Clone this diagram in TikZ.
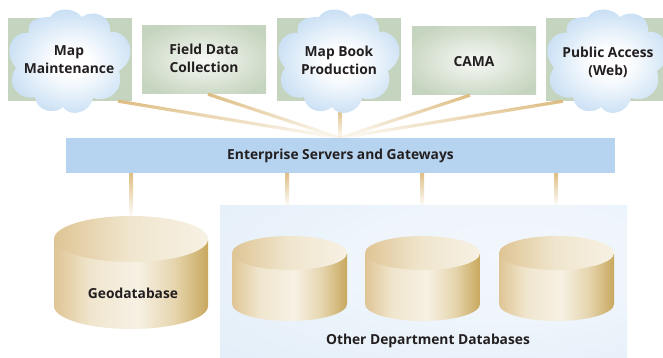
\documentclass[tikz,border=0pt]{standalone}
\usepackage{fontspec}
\setmainfont{Open Sans}
\usetikzlibrary{positioning,fadings}
\definecolor{linktan}{HTML}{DDBB7E}
\definecolor{boxgreen}{HTML}{C5D4BE}
\definecolor{barblue}{HTML}{B6D4EF}
\definecolor{cloudblue}{HTML}{B4D3F0}
\definecolor{panelblue}{HTML}{E1EDF8}
\definecolor{labelgray}{HTML}{231F20}
\definecolor{cana}{HTML}{DFC595}
\definecolor{canb}{HTML}{F7F1E4}
\definecolor{canc}{HTML}{C8A85E}
\definecolor{cand}{HTML}{F0E6CE}
\definecolor{cane}{HTML}{E6D5AE}
\pgfdeclarehorizontalshading{canside}{100bp}{color(0bp)=(cana);color(25bp)=(cana);
    color(37bp)=(cand);color(52bp)=(canb);color(64bp)=(cane);color(75bp)=(canc);color(100bp)=(canc)}
\pgfdeclarehorizontalshading{cantop}{100bp}{color(0bp)=(cana);color(25bp)=(cana);
    color(50bp)=(cand);color(75bp)=(canb);color(100bp)=(canb)}
\pgfdeclareradialshading{boxglow}{\pgfpoint{0bp}{0bp}}{color(0bp)=(white!85!boxgreen);
    color(30bp)=(boxgreen);color(100bp)=(boxgreen)}
\pgfdeclareradialshading{cloudglow}{\pgfpoint{0bp}{0bp}}{color(0bp)=(white);
    color(6bp)=(white);color(31bp)=(cloudblue);color(100bp)=(cloudblue)}
\pgfdeclareradialshading{panelglow}{\pgfpoint{12bp}{8bp}}{color(0bp)=(white!55!panelblue);
    color(18bp)=(white!45!panelblue);color(50bp)=(panelblue);color(100bp)=(panelblue)}
\tikzset{
    label text/.style={font=\fontsize{13.8}{18}\selectfont\bfseries, text=labelgray, align=center},
    flat box/.style={rectangle, fill=boxgreen, minimum width=124pt, inner sep=0pt},
    glow box/.style={flat box, shading=boxglow, minimum height=68pt, label text},
    link/.style={line width=3.2pt, color=linktan, path fading=south},
    drop/.style={link, line width=4pt},
}
% one cloud, centred on #1
\newcommand{\cloudblob}[1]{
    \shade[shift={#1}, shading=cloudglow]
        (-20,-44) .. controls (-14,-54) and (4,-54) .. (12,-44)
        .. controls (22,-52) and (42,-46) .. (40,-29)
        .. controls (56,-32) and (72,-6) .. (49,10)
        .. controls (55,30) and (38,42) .. (23,37)
        .. controls (20,52) and (0,57) .. (-7,46)
        .. controls (-14,53) and (-33,52) .. (-35,36)
        .. controls (-50,40) and (-66,24) .. (-54,7)
        .. controls (-68,-10) and (-58,-30) .. (-41,-28)
        .. controls (-44,-42) and (-30,-44) .. (-20,-44) -- cycle;
}
% one can: centre of the top, x radius, y radius, height
\newcommand{\dbcan}[5]{
    \shade[shading=canside] (#1-#3,#2) -- (#1-#3,#2+#5)
        arc[start angle=180, end angle=0, x radius=#3, y radius=#4] -- (#1+#3,#2) -- cycle;
    \shade[shading=cantop] (#1,#2) ellipse[x radius=#3, y radius=#4];
}
\begin{document}
\begin{tikzpicture}[x=1pt, y=-1pt]
    % the frame
    \useasboundingbox (0,0) rectangle (663,358);
    \clip (0,0) rectangle (663,358);

    % the top row
    \node[flat box, minimum height=83pt] (maintbox) at (70,59.5) {};
    \node[glow box] (field) at (204,60) {\raisebox{1pt}{\begin{tabular}{@{}c@{}}Field Data\\Collection\end{tabular}}};
    \node[flat box, minimum height=83pt] (bookbox) at (339,59.5) {};
    \node[glow box] (cama) at (474,61) {\raisebox{-6pt}[0pt][0pt]{CAMA}};
    \node[flat box, minimum height=83pt] (publicbox) at (608,59.5) {};

    % the bar and the panel
    \node[rectangle, fill=barblue, minimum width=549pt, minimum height=35pt, inner sep=0pt, label text]
        (bar) at (340.5,155.5) {\raisebox{-4.5pt}[0pt][0pt]{Enterprise Servers and Gateways}};
    \node[rectangle, minimum width=407pt, minimum height=153pt, inner sep=0pt, shading=panelglow]
        (panel) at (423.5,281.5) {};
    \coordinate (hub) at (340,138);
    \coordinate (geotop) at (131,216);
    \coordinate (dbone) at (287,236);
    \coordinate (dbtwo) at (422,236);
    \coordinate (dbthree) at (556,236);

    % the links
    \draw[link] ([xshift=-14pt]maintbox.south east) -- (hub);
    \draw[link] ([xshift=4pt]field.south) -- (hub);
    \draw[drop] ([xshift=1.1pt, yshift=-8pt]bookbox.south) -- (hub);
    \draw[link] ([xshift=-4pt]cama.south) -- (hub);
    \draw[link] ([xshift=-45pt]publicbox.south) -- (hub);
    \draw[drop] (bar.south -| geotop) -- ([xshift=.1pt]geotop);
    \foreach \db in {dbone,dbtwo,dbthree} {
        \draw[drop] (bar.south -| \db) -- ([xshift=.1pt]panel.north -| \db);
    };

    % the clouds
    \cloudblob{(70,61)}
    \cloudblob{(339,61)}
    \cloudblob{(608,61)}
    \node[label text] (maint) at (69,60) {Map\\Maintenance};
    \node[label text] (book) at (339,60.5) {Map Book\\Production};
    \node[label text] (public) at (608,62.5) {Public Access\\(Web)};

    % the cans
    \dbcan{131}{239}{77}{23}{67}
    \foreach \cx in {289.5,422.5,556.5} {
        \dbcan{\cx}{253}{57.5}{17}{51}
    };
    \node[label text] (geo) at (133,293) {Geodatabase};
    \node[label text] (other) at (428,341) {Other Department Databases};
\end{tikzpicture}
\end{document}
